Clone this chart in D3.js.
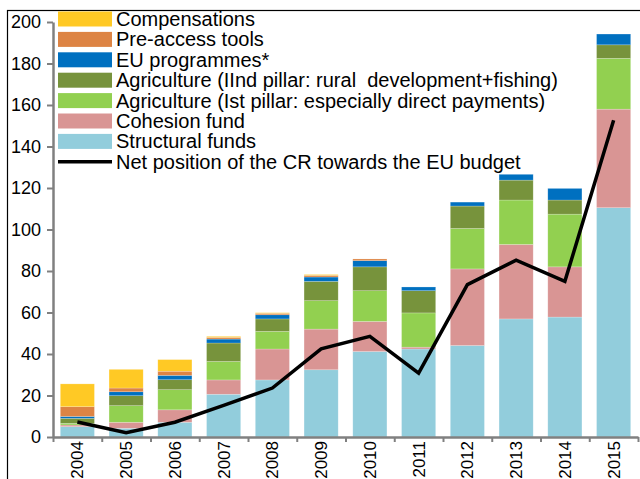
<!DOCTYPE html>
<html>
<head>
<meta charset="utf-8">
<script src="https://cdn.jsdelivr.net/npm/d3@7"></script>
<style>
  body { margin: 0; background: #fff; }
  svg { display: block; font-family: "Liberation Sans", Arial, sans-serif; }
</style>
</head>
<body>
<div id="chart"></div>
<script>
const years = ["2004", "2005", "2006", "2007", "2008", "2009", "2010", "2011", "2012", "2013", "2014", "2015"]

// stacked series, bottom to top
const structural = [5.0, 4.2, 7.1, 20.6, 27.5, 32.4, 41.2, 42.4, 44.1, 56.9, 57.8, 110.5]
const cohesion = [0.8, 2.9, 6.0, 6.9, 14.9, 19.6, 14.5, 0.9, 36.9, 35.9, 24.2, 47.5]
const agriFirst = [0.8, 8.0, 9.7, 8.9, 8.5, 13.7, 14.8, 16.5, 19.5, 21.4, 25.4, 24.5]
const agriSecond = [2.4, 4.8, 4.8, 8.9, 6.0, 9.3, 11.5, 10.7, 10.8, 9.6, 6.8, 6.5]
const euProgrammes = [0.9, 1.9, 2.1, 1.9, 2.0, 2.1, 3.0, 1.8, 1.9, 2.8, 5.6, 5.2]
const preAccess = [4.7, 1.8, 2.0, 0.8, 0.7, 0.8, 0.8, 0, 0, 0, 0, 0]
const compensations = [11.0, 9.0, 5.6, 0.5, 0.3, 0.4, 0, 0, 0, 0, 0, 0]

const netPosition = [7.2, 2.1, 7.1, 15.2, 23.6, 42.5, 48.5, 30.8, 73.4, 85.2, 75.0, 152.7]

const yTicks = [0, 20, 40, 60, 80, 100, 120, 140, 160, 180, 200]

const series = [
  { name: "Structural funds", values: structural, color: "#92cddc" },
  { name: "Cohesion fund", values: cohesion, color: "#d99594" },
  { name: "Agriculture (Ist pillar: especially direct payments)", values: agriFirst, color: "#92d050" },
  { name: "Agriculture (IInd pillar: rural  development+fishing)", values: agriSecond, color: "#77933c" },
  { name: "EU programmes*", values: euProgrammes, color: "#0070c0" },
  { name: "Pre-access tools", values: preAccess, color: "#dd8444" },
  { name: "Compensations", values: compensations, color: "#ffc925" }
]

const width = 640, height = 479
const plotLeft = 53, plotRight = 638, plotBottom = 437, plotTop = 22

const svg = d3.select("#chart").append("svg")
  .attr("width", width)
  .attr("height", height)

// outer frame
svg.append("rect")
  .attr("x", 7.5).attr("y", 10.5)
  .attr("width", 700).attr("height", 600)
  .attr("fill", "none").attr("stroke", "#000").attr("stroke-width", 1.2)

const xScale = d3.scaleBand().domain(years).range([plotLeft, plotRight]).paddingInner(0.3).paddingOuter(0.15)
const yScale = d3.scaleLinear().domain([0, 200]).range([plotBottom, plotTop])

// stack
const table = years.map((y, i) => {
  const row = { year: y }
  series.forEach(s => { row[s.name] = s.values[i] })
  return row
})
const stacked = d3.stack().keys(series.map(s => s.name))(table)

svg.append("g").selectAll("g")
  .data(stacked).enter()
  .append("g")
    .attr("fill", (d, i) => series[i].color)
  .selectAll("rect")
  .data(d => d).enter()
  .append("rect")
    .attr("x", d => xScale(d.data.year))
    .attr("y", d => yScale(d[1]))
    .attr("width", xScale.bandwidth())
    .attr("height", d => yScale(d[0]) - yScale(d[1]))
    .attr("stroke", "rgba(255,255,255,0.35)")
    .attr("stroke-width", 0.6)

// Y axis
const yAxis = d3.axisLeft(yScale).tickValues(yTicks).tickSize(6).tickPadding(6).tickSizeOuter(0)
const gy = svg.append("g")
  .attr("transform", "translate(" + plotLeft + ",0)")
  .call(yAxis)
gy.select(".domain").attr("stroke", "#808080").attr("stroke-width", 2.5)
gy.selectAll(".tick line").attr("stroke", "#808080").attr("stroke-width", 2)
gy.selectAll(".tick text").attr("font-size", 18).attr("fill", "#000").attr("font-family", "Liberation Sans, Arial, sans-serif")

// X axis: boundary ticks
const xEdge = d3.scaleLinear().domain([0, years.length]).range([plotLeft, plotRight])
const gxTicks = svg.append("g")
  .attr("transform", "translate(0," + plotBottom + ")")
  .call(d3.axisBottom(xEdge).ticks(years.length).tickSize(5).tickFormat("").tickSizeOuter(0))
gxTicks.select(".domain").attr("stroke", "#808080").attr("stroke-width", 2.5)
gxTicks.selectAll(".tick line").attr("stroke", "#808080").attr("stroke-width", 2)

// X axis labels (rotated)
const gx = svg.append("g")
  .attr("transform", "translate(0," + plotBottom + ")")
  .call(d3.axisBottom(xScale).tickSize(0).tickPadding(0))
gx.select(".domain").remove()
gx.selectAll(".tick text")
  .attr("font-size", 17).attr("fill", "#000")
  .attr("font-family", "Liberation Sans, Arial, sans-serif")
  .attr("text-anchor", "end")
  .attr("dy", "0.35em")
  .attr("transform", "translate(0,4) rotate(-90)")
  .attr("x", 0).attr("y", 0)

// Net position line
const line = d3.line()
  .x((d, i) => xScale(years[i]) + xScale.bandwidth() / 2)
  .y(d => yScale(d))
svg.append("path")
  .datum(netPosition)
  .attr("d", line)
  .attr("fill", "none")
  .attr("stroke", "#000")
  .attr("stroke-width", 3.5)
  .attr("stroke-linejoin", "miter")

// Legend
const legendItems = series.slice().reverse().map(s => ({ name: s.name, color: s.color, type: "rect" }))
legendItems.push({ name: "Net position of the CR towards the EU budget", color: "#000", type: "line" })

const legend = svg.append("g").attr("transform", "translate(58,19)")
const item = legend.selectAll("g")
  .data(legendItems).enter()
  .append("g")
    .attr("transform", (d, i) => "translate(0," + (i * 20.4) + ")")

item.filter(d => d.type === "rect").append("rect")
  .attr("x", 0).attr("y", -7.5)
  .attr("width", 54).attr("height", 15)
  .attr("fill", d => d.color)
item.filter(d => d.type === "line").append("line")
  .attr("x1", 0).attr("x2", 54).attr("y1", 0).attr("y2", 0)
  .attr("stroke", "#000").attr("stroke-width", 3.5)
item.append("text")
  .attr("x", 58).attr("y", 0).attr("dy", "0.35em")
  .attr("font-size", 20)
  .style("white-space", "pre")
  .attr("fill", "#000")
  .text(d => d.name)
</script>
</body>
</html>
